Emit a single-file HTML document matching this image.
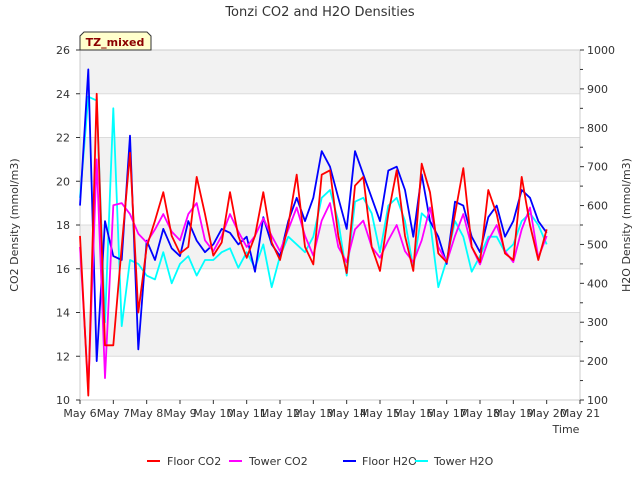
<!DOCTYPE html>
<html><head><meta charset="utf-8"><style>
body{margin:0;background:#fff;font-family:"Liberation Sans","DejaVu Sans",sans-serif;}
svg text{font-family:"DejaVu Sans","Liberation Sans",sans-serif;}
</style></head><body>
<svg id="c" width="640" height="480" xmlns="http://www.w3.org/2000/svg"></svg>
<script>
const dayLabels=["May 6","May 7","May 8","May 9","May 10","May 11","May 12","May 13","May 14","May 15","May 16","May 17","May 18","May 19","May 20","May 21"];
const leftTicks=[10,12,14,16,18,20,22,24,26];
const rightTicks=[100,200,300,400,500,600,700,800,900,1000];
const floorCO2=[17.5,10.2,24,12.5, 12.5,17,21.3,14, 17,18.2,19.5,17.5, 16.7,17,20.2,18.5, 16.6,17.2,19.5,17.5, 16.5,17.5,19.5,17.2, 16.4,18,20.3,17, 16.2,20.3,20.5,17.5, 15.8,19.8,20.2,17, 15.9,18.5,20.5,17.5, 15.9,20.8,19.5,16.7, 16.3,18.5,20.6,17, 16.3,19.6,18.5,16.7, 16.4,20.2,18,16.4, 17.8];
const towerCO2=[17,10.5,21,11, 18.9,19,18.5,17.6, 17.2,17.8,18.5,17.7, 17.3,18.5,19,17.3, 16.8,17.5,18.5,17.7, 17,17.5,18.3,17.5, 16.8,17.8,18.8,17.5, 16.6,18.2,19,17, 16.3,17.8,18.2,17, 16.5,17.3,18,16.8, 16.3,17.3,18.8,17, 16.3,17.5,18.5,17, 16.2,17.3,18,16.8, 16.3,17.8,18.8,16.5, 17.5];
const floorH2O=[600,950,200,560, 470,460,780,230, 510,460,540,490, 470,560,510,480, 500,540,530,500, 520,430,570,500, 470,560,620,560, 620,740,700,620, 540,740,680,620, 560,690,700,640, 520,680,560,520, 450,610,600,520, 480,570,600,520, 560,640,620,560, 530];
const towerH2O=[620,880,870,300, 850,290,460,450, 420,410,480,400, 450,470,420,460, 460,480,490,440, 480,440,500,390, 470,520,500,480, 520,620,640,560, 420,610,620,580, 480,600,620,560, 440,580,560,390, 460,560,520,430, 470,520,520,480, 500,560,580,550, 500];
const step=0.25;
const X0=80,X1=580,Y0=400,Y1=50;
const xs=d=>X0+(d)*(X1-X0)/15;
const yl=v=>Y0-(v-10)*(Y0-Y1)/16;
const yr=v=>Y0-(v-100)*(Y0-Y1)/900;
const svg=document.getElementById('c');
const NS="http://www.w3.org/2000/svg";
function mk(t,a,p){const e=document.createElementNS(NS,t);for(const k in a)e.setAttribute(k,a[k]);(p||svg).appendChild(e);return e;}
for(let i=0;i<8;i++){const top=yl(12+2*i),bot=yl(10+2*i);
 const r=mk('rect',{x:X0,y:top,width:X1-X0,height:bot-top,fill:(i%2==1)?'#f2f2f2':'#ffffff'});
 
 }
leftTicks.forEach(v=>{const l=mk('line',{x1:X0,x2:X1,y1:yl(v),y2:yl(v),stroke:'#dcdcdc','stroke-width':1});
 
 });
const fr=mk('rect',{x:X0,y:Y1,width:X1-X0,height:Y0-Y1,fill:'none',stroke:'#cccccc'});


leftTicks.forEach(v=>{mk('line',{x1:X0-4,x2:X0,y1:yl(v),y2:yl(v),stroke:'#333'});
 const t=mk('text',{x:X0-10,y:yl(v)+4,'font-size':11,'text-anchor':'end',fill:'#333'});t.textContent=v;
 
 });
rightTicks.forEach(v=>{mk('line',{x1:X1,x2:X1+4,y1:yr(v),y2:yr(v),stroke:'#333'});
 if(v<1000)mk('line',{x1:X1,x2:X1+3,y1:yr(v+50),y2:yr(v+50),stroke:'#333'});
 const t=mk('text',{x:X1+7,y:yr(v)+4,'font-size':11,fill:'#333'});t.textContent=v;
 
 });
dayLabels.forEach((s,i)=>{mk('line',{x1:xs(i),x2:xs(i),y1:Y0,y2:Y0+4,stroke:'#333'});
 const t=mk('text',{x:xs(i),y:Y0+17,'font-size':11,'text-anchor':'middle',fill:'#333'});t.textContent=s;
 
 });
function series(arr,ys,col,name){
 const pts=arr.map((v,i)=>xs(i*step).toFixed(1)+','+ys(v).toFixed(1)).join(' ');
 const p=mk('polyline',{points:pts,fill:'none',stroke:col,'stroke-width':1.8,'stroke-linejoin':'round'});
 
 }
series(towerH2O,yr,'#00ffff','tower-h2o-line');
series(floorH2O,yr,'#0000ff','floor-h2o-line');
series(towerCO2,yl,'#ff00ff','tower-co2-line');
series(floorCO2,yl,'#ff0000','floor-co2-line');
</script>
<svg width="640" height="480" style="position:absolute;left:0;top:0" xmlns="http://www.w3.org/2000/svg">
<text x="320" y="16" font-size="13" text-anchor="middle" fill="#333">Tonzi CO2 and H2O Densities</text>
<text x="566" y="433" font-size="11" text-anchor="middle" fill="#333">Time</text>
<text transform="translate(18,225) rotate(-90)" font-size="11" text-anchor="middle" fill="#333">CO2 Density (mmol/m3)</text>
<text transform="translate(630,225) rotate(-90)" font-size="11" text-anchor="middle" fill="#333">H2O Density (mmol/m3)</text>
<g>
<polygon points="84,32 147,32 151,36 151,50 80,50 80,36" fill="#ffffcc" stroke="#333" stroke-width="1"/>
<text x="115" y="46" font-size="11" font-weight="bold" text-anchor="middle" fill="#8b0000">TZ_mixed</text>
</g>
<g font-size="11" fill="#333">
<g><line x1="147" x2="160" y1="461" y2="461" stroke="#ff0000" stroke-width="2"/><text x="167" y="465">Floor CO2</text></g>
<g><line x1="229" x2="242" y1="461" y2="461" stroke="#ff00ff" stroke-width="2"/><text x="249" y="465">Tower CO2</text></g>
<g><line x1="343" x2="356" y1="461" y2="461" stroke="#0000ff" stroke-width="2"/><text x="362" y="465">Floor H2O</text></g>
<g><line x1="415" x2="428" y1="461" y2="461" stroke="#00ffff" stroke-width="2"/><text x="434" y="465">Tower H2O</text></g>
</g>
</svg>
</body></html>
